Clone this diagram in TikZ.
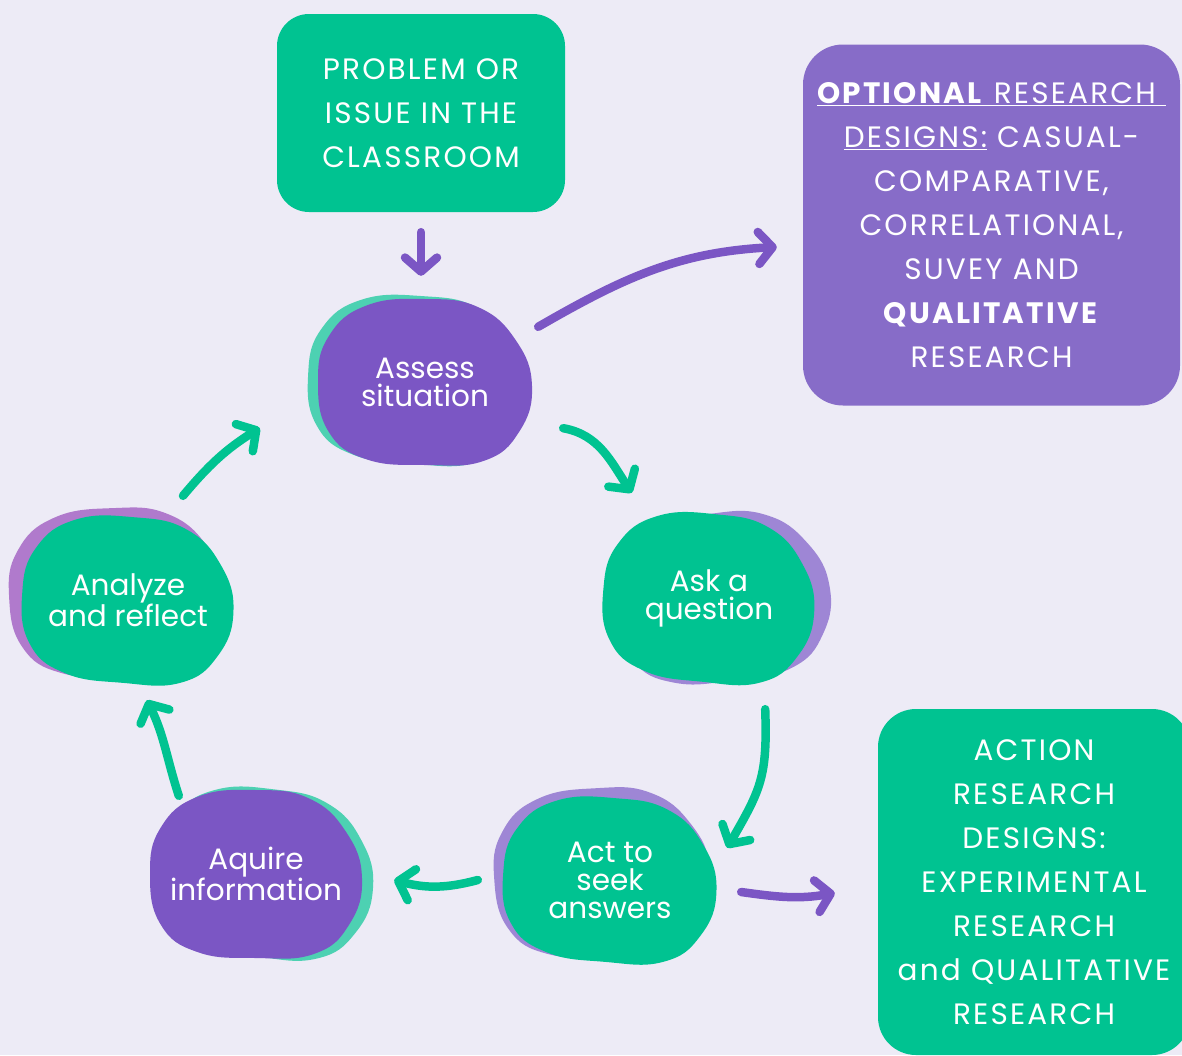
\documentclass[tikz,border=0pt]{standalone}
\usepackage{fontspec}
\setmainfont{Poppins}
\usetikzlibrary{arrows.meta}

\definecolor{paper}{RGB}{237,235,246}
\definecolor{leaf}{RGB}{0,195,145}
\definecolor{mint}{RGB}{77,209,178}
\definecolor{plum}{RGB}{123,86,196}
\definecolor{lilac}{RGB}{135,108,200}
\definecolor{lavender}{RGB}{158,134,213}
\definecolor{orchid}{RGB}{176,122,204}

\newcommand{\cardfont}{\fontsize{29.5}{44}\selectfont\addfontfeature{LetterSpace=7.5}}
\newcommand{\bubblefont}{\fontsize{29.5}{28}\selectfont}

% irregular round shape behind a bubble node
\newcommand{\blob}[3][]{%
  \fill[#2, shift={#3}, #1] plot[smooth cycle, tension=0.75] coordinates {
    (1,0.05) (0.88,0.6) (0.55,0.95) (0,1) (-0.55,0.93) (-0.9,0.6)
    (-1,0) (-0.9,-0.55) (-0.55,-0.92) (0,-1) (0.5,-0.9) (0.85,-0.5)};}

\tikzset{
  card/.style={text=white, align=center, inner sep=0pt, rounded corners=32pt, font=\cardfont},
  bubble/.style={text=white, align=center, inner sep=0pt, minimum width=214pt, minimum height=166pt, font=\bubblefont},
  flow/.style={line width=8.5pt, line cap=round, -{Straight Barb[length=14pt,width=32pt,round]}},
  leafarrow/.style={flow, draw=leaf},
  plumarrow/.style={flow, draw=plum},
}

\begin{document}
\begin{tikzpicture}[x=1pt, y=-1pt]
        \clip (0,0) rectangle (1182,1055);
        \fill[paper] (0,0) rectangle (1182,1055);

        % bubbles with their offset shadows
        \blob[rotate=-3, xscale=110, yscale=84]{mint}{(418,380)}
        \blob[xscale=107, yscale=83]{plum}{(425,382)}
        \blob[rotate=8, xscale=108, yscale=84]{lavender}{(722,597)}
        \blob[rotate=-5, xscale=106, yscale=84]{leaf}{(709,598)}
        \blob[rotate=4, xscale=108, yscale=84]{lavender}{(602,872)}
        \blob[rotate=-4, xscale=107, yscale=82]{leaf}{(610,880)}
        \blob[rotate=-6, xscale=108, yscale=84]{mint}{(266,873)}
        \blob[xscale=106, yscale=84]{plum}{(256,874)}
        \blob[rotate=3, xscale=108, yscale=84]{orchid}{(117,592)}
        \blob[rotate=-4, xscale=106, yscale=83]{leaf}{(128,600)}

        \node[card, fill=leaf, minimum width=288pt, minimum height=198pt] (problem) at (421,113) {PROBLEM OR\\ISSUE IN THE\\CLASSROOM};
        \node[card, fill=lilac, rounded corners=40pt, minimum width=377pt, minimum height=361pt] (designs) at (991.5,225)
            {\underline{\textbf{OPTIONAL} RESEARCH }\\\underline{DESIGNS:} CASUAL-\\COMPARATIVE,\\CORRELATIONAL,\\SUVEY AND\\\textbf{QUALITATIVE}\\RESEARCH};
        \node[card, fill=leaf, rounded corners=38pt, minimum width=312pt, minimum height=346pt] (action) at (1034,882)
            {ACTION\\RESEARCH\\DESIGNS:\\EXPERIMENTAL\\RESEARCH\\and QUALITATIVE\\RESEARCH};

        \node[bubble] (assess) at (425,382) {Assess\\situation};
        \node[bubble] (ask) at (709,598) {Ask a\\question};
        \node[bubble] (act) at (610,880) {Act to\\seek\\answers};
        \node[bubble] (aquire) at (256,874) {Aquire\\information};
        \node[bubble] (analyze) at (128,600) {Analyze\\and reflect};

        \draw[plumarrow, shorten <=20pt, shorten >=23pt] (problem.south) -- (problem.south |- assess.north);
        \draw[plumarrow] ([xshift=6pt,yshift=-28pt]assess.north east) to[out=30, in=183] ([xshift=-26pt,yshift=-22pt]designs.west);
        \draw[leafarrow] ([xshift=31pt,yshift=37pt]assess.south east) to[out=-10, in=124] ([xshift=30pt,yshift=22pt]ask.north west);
        \draw[leafarrow] ([xshift=-51pt,yshift=-28pt]ask.south east) to[out=-88, in=60, looseness=1.2] ([xshift=10pt,yshift=-51pt]act.north east);
        \draw[plumarrow] ([xshift=24pt,yshift=-12pt]act.east) to[out=-8, in=-170] ([xshift=-43pt,yshift=-11pt]action.west);
        \draw[leafarrow] ([xshift=-25pt]act.west) to[out=-165, in=-15] ([xshift=31pt,yshift=-6pt]aquire.east);
        \draw[leafarrow] ([xshift=30pt,yshift=-5pt]aquire.north west) to[out=108, in=-64] ([xshift=19pt,yshift=-17pt]analyze.south);
        \draw[leafarrow] ([xshift=55pt,yshift=21pt]analyze.north) to[out=50, in=-148] ([xshift=-58pt,yshift=-46pt]assess.west);
\end{tikzpicture}
\end{document}
